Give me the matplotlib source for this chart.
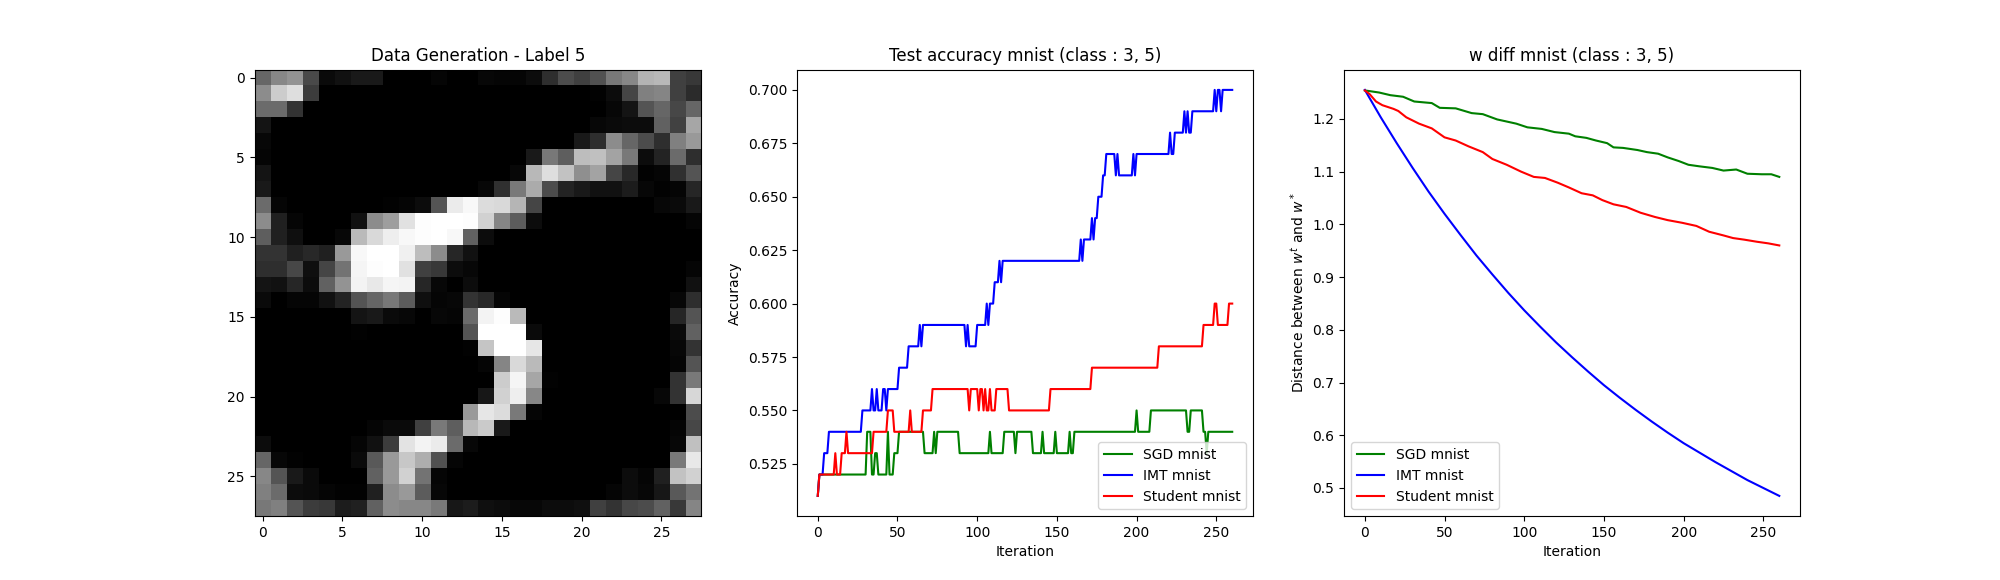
import numpy as np
import matplotlib
matplotlib.use("Agg")
import matplotlib.pyplot as plt

# ---------------- data: generated digit (28x28, intensity 0-100) ----------------
digit_rows = [
    [40,53,58,29,4,7,10,10,0,0,0,2,0,0,3,2,2,5,18,30,25,32,47,53,70,72,25,22],
    [55,80,87,24,0,0,0,0,0,0,0,0,0,0,0,0,0,0,0,0,0,1,5,27,50,52,25,17],
    [42,42,20,0,0,0,0,0,0,0,0,0,0,0,0,0,0,0,0,0,0,0,3,8,33,40,28,40],
    [8,0,0,0,0,0,0,0,0,0,0,0,0,0,0,0,0,0,0,0,0,3,4,5,5,38,26,65],
    [3,0,0,0,0,0,0,0,0,0,0,0,0,0,0,0,0,0,0,0,10,18,55,40,30,18,50,60],
    [2,0,0,0,0,0,0,0,0,0,0,0,0,0,0,0,0,10,47,37,74,75,64,48,5,14,42,18],
    [8,0,0,0,0,0,0,0,0,0,0,0,0,0,0,0,3,72,87,76,56,64,27,16,1,2,19,33],
    [10,0,0,0,0,0,0,0,0,0,0,0,0,0,3,19,48,67,30,14,10,7,7,11,3,1,2,15],
    [42,2,0,0,0,0,0,0,1,2,5,33,92,97,86,85,71,27,0,0,0,0,0,0,0,3,4,10],
    [55,13,2,0,0,0,7,55,62,88,99,100,100,99,82,52,36,5,0,0,0,0,0,0,0,0,0,2],
    [37,13,6,0,0,3,73,85,93,97,99,100,97,38,5,0,0,0,0,0,0,0,0,0,0,0,0,0],
    [20,20,13,16,13,60,97,100,100,94,74,55,15,7,0,0,0,0,0,0,0,0,0,0,0,0,0,0],
    [18,18,28,6,27,45,96,99,100,88,25,22,5,3,0,0,0,0,0,0,0,0,0,0,0,0,0,2],
    [8,7,15,5,38,58,95,91,96,95,15,3,0,5,0,0,0,0,0,0,0,0,0,0,0,0,0,7],
    [4,0,2,2,7,14,33,40,47,36,6,2,3,20,16,2,0,0,0,0,0,0,0,0,0,0,3,18],
    [0,0,0,0,0,0,8,10,4,3,0,3,2,42,95,99,73,0,0,0,0,0,0,0,0,0,15,33],
    [0,0,0,0,0,0,1,0,0,0,0,0,0,33,100,100,100,4,0,0,0,0,0,0,0,0,4,38],
    [0,0,0,0,0,0,0,0,0,0,0,0,0,1,77,100,100,90,0,0,0,0,0,0,0,0,3,20],
    [0,0,0,0,0,0,0,0,0,0,0,0,0,0,2,52,85,73,0,0,0,0,0,0,0,0,2,33],
    [0,0,0,0,0,0,0,0,0,0,0,0,0,0,0,80,96,65,1,0,0,0,0,0,0,0,20,48],
    [0,0,0,0,0,0,0,0,0,0,0,0,0,0,9,82,93,53,0,0,0,0,0,0,0,3,20,84],
    [0,0,0,0,0,0,0,0,0,0,0,0,0,60,90,86,48,2,0,0,0,0,0,0,0,0,0,30],
    [0,0,0,0,0,0,0,2,4,4,25,48,37,72,79,10,0,0,0,0,0,0,0,0,0,0,2,28],
    [5,0,0,0,0,0,2,7,24,89,95,92,42,3,0,0,0,0,0,0,0,0,0,0,0,0,3,75],
    [40,3,1,0,0,0,4,35,60,78,68,32,2,0,0,0,0,0,0,0,0,0,0,0,0,0,48,91],
    [53,33,10,4,0,0,0,38,60,82,45,2,0,0,0,0,0,0,0,0,0,0,0,5,2,13,76,82],
    [50,42,5,4,2,1,1,13,55,60,36,3,0,0,0,0,0,0,0,0,0,0,2,5,3,9,35,45],
    [47,50,33,24,22,11,13,38,55,53,53,48,9,11,6,5,3,3,5,5,6,25,20,28,30,38,22,52],
]

# ---------------- data: test accuracy (step series, given as change points) ----------------
n_iter = 261
sgd_acc_start = [0,1,31,34,36,38,44,45,48,51,67,73,74,75,89,108,109,117,124,125,135,141,142,149,150,
                 158,159,161,200,201,209,232,234,242,244,245]
sgd_acc_value = [0.51,0.52,0.54,0.52,0.53,0.52,0.54,0.52,0.53,0.54,0.53,0.54,0.53,0.54,0.53,0.54,0.53,0.54,
                 0.53,0.54,0.53,0.54,0.53,0.54,0.53,0.54,0.53,0.54,0.55,0.54,0.55,0.54,0.55,0.54,0.53,0.54]

imt_acc_start = [0,1,4,7,28,34,35,37,38,41,43,44,51,57,64,65,66,93,94,95,100,106,107,108,111,114,115,116,
                 165,166,167,172,173,174,176,179,181,187,188,189,198,199,200,221,222,224,230,231,232,233,
                 235,249,250,251,253,254]
imt_acc_value = [0.51,0.52,0.53,0.54,0.55,0.56,0.55,0.56,0.55,0.56,0.55,0.56,0.57,0.58,0.59,0.58,0.59,0.58,
                 0.59,0.58,0.59,0.60,0.59,0.60,0.61,0.62,0.61,0.62,0.63,0.62,0.63,0.64,0.63,0.64,0.65,0.66,
                 0.67,0.66,0.67,0.66,0.67,0.66,0.67,0.68,0.67,0.68,0.69,0.68,0.69,0.68,0.69,0.70,0.69,0.70,
                 0.69,0.70]

stu_acc_start = [0,1,11,12,15,18,19,35,44,48,58,59,66,72,95,96,101,102,104,105,106,108,109,112,120,146,
                 172,214,242,249,251,258]
stu_acc_value = [0.51,0.52,0.53,0.52,0.53,0.54,0.53,0.54,0.55,0.54,0.55,0.54,0.55,0.56,0.55,0.56,0.55,0.56,
                 0.55,0.56,0.55,0.56,0.55,0.56,0.55,0.56,0.57,0.58,0.59,0.60,0.59,0.60]

# ---------------- data: distance between w^t and w^* ----------------
sgd_w_iter = [0,9,16,24,31,42,47,57,67,74,83,89,95,102,111,119,128,132,139,145,152,156,162,171,177,184,
              190,197,203,210,218,225,233,240,249,255,260]
sgd_w_val = [1.254,1.250,1.245,1.242,1.233,1.230,1.221,1.220,1.211,1.209,1.199,1.195,1.191,1.184,1.181,
             1.175,1.172,1.167,1.164,1.159,1.154,1.146,1.145,1.141,1.137,1.134,1.127,1.120,1.113,1.110,
             1.107,1.102,1.104,1.096,1.095,1.095,1.090]

imt_w_iter = [0,10,20,30,40,50,60,70,80,90,100,110,120,130,140,150,160,170,180,190,200,210,220,230,240,250,260]
imt_w_val = [1.255,1.203,1.154,1.107,1.062,1.020,0.980,0.941,0.905,0.870,0.837,0.806,0.776,0.748,0.721,
             0.695,0.671,0.648,0.626,0.605,0.585,0.567,0.549,0.532,0.515,0.500,0.485]

stu_w_iter = [0,3,7,11,18,21,26,34,42,50,57,65,74,80,89,98,106,113,121,128,136,143,149,156,164,173,182,
              190,199,208,216,225,231,238,246,253,260]
stu_w_val = [1.254,1.247,1.233,1.226,1.219,1.215,1.203,1.191,1.182,1.165,1.159,1.148,1.137,1.124,1.113,
             1.100,1.090,1.088,1.079,1.070,1.059,1.055,1.046,1.038,1.033,1.022,1.014,1.008,1.003,0.997,
             0.986,0.979,0.974,0.971,0.967,0.964,0.960]

labels = ["SGD mnist", "IMT mnist", "Student mnist"]
colors = ["g", "b", "r"]


def steps(starts, values, n):
    lengths = np.diff(list(starts) + [n])
    return np.repeat(values, lengths)


fig, axes = plt.subplots(1, 3, figsize=(20, 5.8), dpi=100)

ax = axes[0]
ax.imshow(np.array(digit_rows, dtype=float), cmap="gray")
ax.set_title("Data Generation - Label 5")

ax = axes[1]
iters = np.arange(n_iter)
for starts, vals, lab, col in zip([sgd_acc_start, imt_acc_start, stu_acc_start],
                                  [sgd_acc_value, imt_acc_value, stu_acc_value], labels, colors):
    ax.plot(iters, steps(starts, vals, n_iter), color=col, label=lab)
ax.set_title("Test accuracy mnist (class : 3, 5)")
ax.set_xlabel("Iteration")
ax.set_ylabel("Accuracy")
ax.legend(loc="lower right")

ax = axes[2]
for xs, ys, lab, col in zip([sgd_w_iter, imt_w_iter, stu_w_iter],
                            [sgd_w_val, imt_w_val, stu_w_val], labels, colors):
    ax.plot(xs, ys, color=col, label=lab)
ax.set_title("w diff mnist (class : 3, 5)")
ax.set_xlabel("Iteration")
ax.set_ylabel("Distance between $w^t$ and $w^*$")
ax.legend(loc="lower left")

fig.savefig("out.png", dpi=100)
